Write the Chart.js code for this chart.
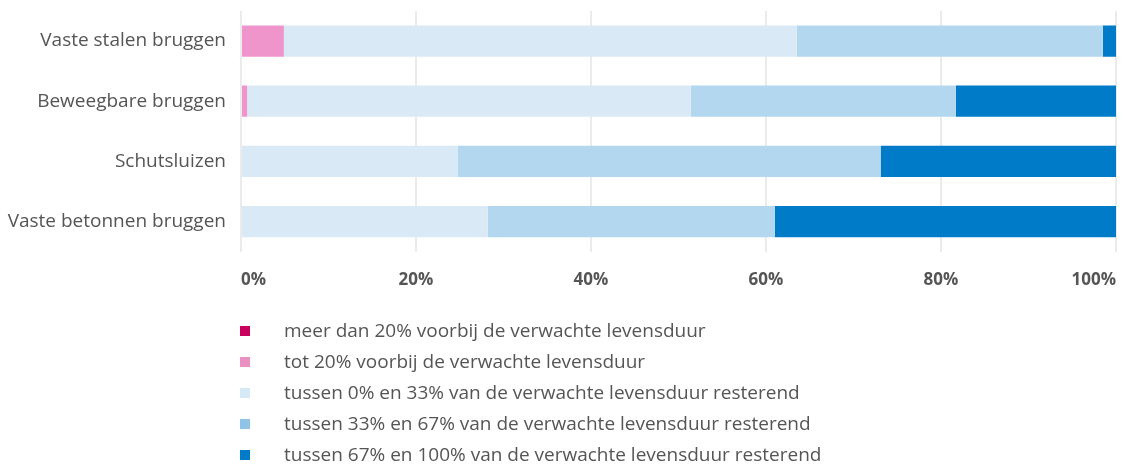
<!DOCTYPE html>
<html>
<head>
<meta charset="utf-8">
<script src="https://cdn.jsdelivr.net/npm/chart.js@4"></script>
<style>
  html, body { margin: 0; padding: 0; background: #fff; }
  body { width: 1129px; height: 466px; overflow: hidden; font-family: "Open Sans", sans-serif; position: relative; }
  #wrap { position: relative; width: 1129px; height: 320px; }
  #legend { list-style: none; margin: 0; padding: 0; position: absolute; left: 240px; top: 315px; }
  #legend li { height: 31px; line-height: 31px; font-size: 19px; color: #555; white-space: nowrap; }
  #legend .sw { display: inline-block; width: 10px; height: 10px; margin-right: 34px; vertical-align: middle; position: relative; top: -1px; }
</style>
</head>
<body>
<div id="wrap"><canvas id="chart"></canvas></div>
<ul id="legend"></ul>
<script>
(function () {
    'use strict';

    const categories = ["Vaste stalen bruggen", "Beweegbare bruggen", "Schutsluizen", "Vaste betonnen bruggen"];
    const seriesNames = [
        "meer dan 20% voorbij de verwachte levensduur",
        "tot 20% voorbij de verwachte levensduur",
        "tussen 0% en 33% van de verwachte levensduur resterend",
        "tussen 33% en 67% van de verwachte levensduur resterend",
        "tussen 67% en 100% van de verwachte levensduur resterend"
    ];
    const meerDan20 = [0, 0, 0, 0];
    const tot20 = [4.9, 0.7, 0, 0];
    const tussen0en33 = [58.6, 50.7, 24.8, 28.2];
    const tussen33en67 = [35.0, 30.3, 48.3, 32.8];
    const tussen67en100 = [1.5, 18.3, 26.9, 39.0];
    const xTicks = [0, 20, 40, 60, 80, 100];

    const barColors = ["#ca005d", "#ef95cc", "#d9eaf6", "#b3d7ee", "#007bc7"];
    const swatchColors = ["#ca005d", "#ea91c2", "#d6e9f6", "#8ec4e8", "#007bc7"];

    const values = [meerDan20, tot20, tussen0en33, tussen33en67, tussen67en100];

    const ctx = document.getElementById("chart");
    const chart = new Chart(ctx, {
        type: "bar",
        data: {
            labels: categories,
            datasets: seriesNames.map((name, i) => ({
                label: name,
                data: values[i],
                backgroundColor: barColors[i],
                borderWidth: 0,
                categoryPercentage: 1,
                barPercentage: 0.52
            }))
        },
        options: {
            indexAxis: "y",
            responsive: true,
            maintainAspectRatio: false,
            animation: false,
            layout: { padding: { top: 11, right: 13, bottom: 12, left: 0 } },
            plugins: { legend: { display: false }, tooltip: { enabled: false } },
            scales: {
                x: {
                    stacked: true,
                    min: 0,
                    max: 100,
                    afterBuildTicks: axis => { axis.ticks = xTicks.map(v => ({ value: v })); },
                    afterFit: axis => { axis.paddingLeft = 0; axis.paddingRight = 0; },
                    grid: { color: "#ebebeb", lineWidth: 2, drawTicks: false },
                    border: { display: false },
                    ticks: {
                        align: "inner",
                        padding: 18,
                        color: "#555",
                        font: { family: "Open Sans", size: 17, weight: "bold" },
                        callback: v => v + "%"
                    }
                },
                y: {
                    stacked: true,
                    grid: { display: false, drawTicks: false },
                    border: { display: false },
                    afterFit: axis => {
                        axis.width = 241;
                        axis.paddingTop = 0;
                        axis.paddingBottom = 0;
                    },
                    ticks: {
                        padding: 15,
                        color: "#555",
                        font: { family: "Open Sans", size: 19 }
                    }
                }
            }
        }
    });

    const ul = document.getElementById("legend");
    chart.data.datasets.forEach((ds, i) => {
        const li = document.createElement("li");
        const sw = document.createElement("span");
        sw.className = "sw";
        sw.style.background = swatchColors[i];
        li.appendChild(sw);
        li.appendChild(document.createTextNode(ds.label));
        ul.appendChild(li);
    });
})();
</script>
</body>
</html>
